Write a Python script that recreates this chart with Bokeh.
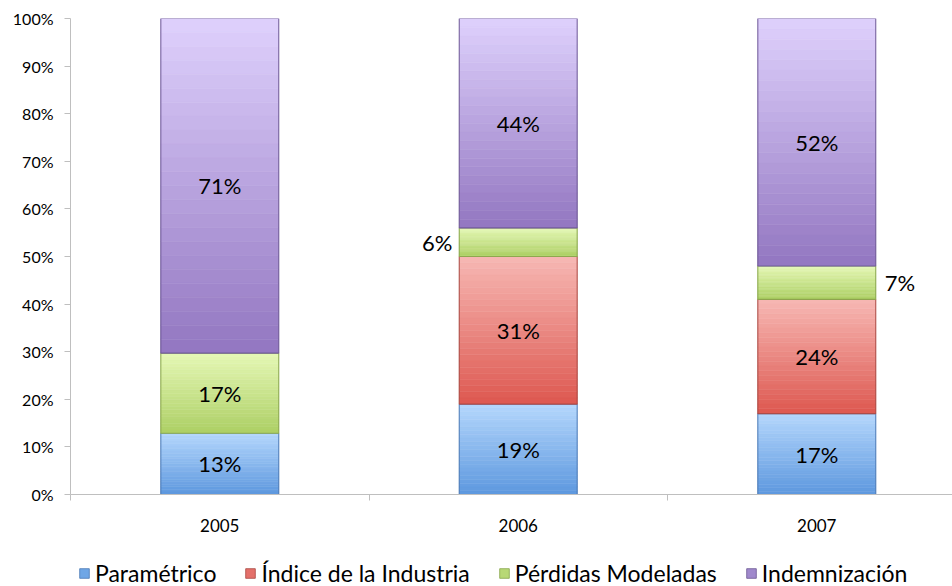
import numpy as np
from bokeh.plotting import figure
from bokeh.layouts import column
from bokeh.models import ColumnDataSource, FixedTicker, Legend, LegendItem, Range1d
from bokeh.core.properties import value
from bokeh.embed import file_html
from bokeh.resources import INLINE

# ---------------- data ----------------
years = ["2005", "2006", "2007"]
series_names = ["Paramétrico", "Índice de la Industria", "Pérdidas Modeladas", "Indemnización"]
parametrico = [13, 19, 17]
indice = [0, 31, 24]
perdidas = [17, 6, 7]
indemnizacion = [71, 44, 52]
y_ticks = [0, 10, 20, 30, 40, 50, 60, 70, 80, 90, 100]
y_tick_labels = ["0%", "10%", "20%", "30%", "40%", "50%", "60%", "70%", "80%", "90%", "100%"]

# ---------------- styles ----------------
top_colors = ["#b3d6fc", "#f6b6b2", "#e4f7b4", "#ddcffb"]
bottom_colors = ["#5f99df", "#de5a52", "#aed066", "#9478c2"]
edge_colors = ["#4a78b4", "#a84640", "#86a44a", "#6a5592"]
legend_colors = ["#6fa6e6", "#e4706a", "#b8d876", "#a089cc"]
FONT = "Lato"
N_SLICES = 24
BAR_W = 0.395
W = 952
H_MAIN, H_LEG = 560, 26
LEFT, TOP = 70, 18
FRAME_BOTTOM = 494
BAND_PX = 298.5

def hex2rgb(h):
    h = h.lstrip("#")
    return np.array([int(h[i:i + 2], 16) for i in (0, 2, 4)], dtype=float)

def rgb2hex(c):
    return "#%02x%02x%02x" % tuple(int(round(v)) for v in c)

series_vals = [parametrico, indice, perdidas, indemnizacion]
vals = np.array(series_vals, dtype=float)  # shape (4, 3)
totals = vals.sum(axis=0)
pct = vals / totals * 100.0
tops = np.cumsum(pct, axis=0)
bottoms = tops - pct
xs = np.arange(len(years))

p = figure(width=W, height=H_MAIN, output_backend="svg", toolbar_location=None,
           x_range=Range1d(-0.5, -0.5 + (W - LEFT) / BAND_PX), y_range=Range1d(0, 100),
           min_border_left=LEFT, min_border_right=0, min_border_top=TOP,
           min_border_bottom=H_MAIN - FRAME_BOTTOM)
p.outline_line_color = None
p.xgrid.visible = False
p.ygrid.visible = False
p.background_fill_color = "white"
p.border_fill_color = "white"

# legend strip (separate figure below the chart)
pl = figure(width=W, height=H_LEG, output_backend="svg", toolbar_location=None,
            x_range=Range1d(-0.5, 2.5), y_range=Range1d(200, 300),
            min_border_left=0, min_border_right=0, min_border_top=0, min_border_bottom=0)
pl.axis.visible = False
pl.grid.visible = False
pl.outline_line_color = None
pl.background_fill_color = "white"
pl.border_fill_color = "white"

legend_items = []
for s in range(len(series_names)):
    c_top = hex2rgb(top_colors[s])
    c_bot = hex2rgb(bottom_colors[s])
    d = dict(left=[], right=[], bottom=[], top=[], color=[])
    od = dict(left=[], right=[], bottom=[], top=[])
    for j in range(len(years)):
        if pct[s, j] <= 0:
            continue
        b0, t0 = bottoms[s, j], tops[s, j]
        edges = np.linspace(t0, b0, N_SLICES + 1)
        for k in range(N_SLICES):
            f = k / (N_SLICES - 1)
            d["left"].append(xs[j] - BAR_W / 2)
            d["right"].append(xs[j] + BAR_W / 2)
            d["top"].append(edges[k])
            d["bottom"].append(edges[k + 1])
            d["color"].append(rgb2hex(c_top * (1 - f) + c_bot * f))
        od["left"].append(xs[j] - BAR_W / 2)
        od["right"].append(xs[j] + BAR_W / 2)
        od["bottom"].append(b0)
        od["top"].append(t0)
    p.quad(left="left", right="right", bottom="bottom", top="top",
           fill_color="color", line_color="color", line_width=0.5, source=ColumnDataSource(d))
    src_o = ColumnDataSource(od)
    p.quad(left="left", right="right", bottom="bottom", top="top", fill_color=None,
           line_color=edge_colors[s], line_width=1.2, line_alpha=0.8, source=src_o)
    # same segments in the legend strip (outside its visible range) -> legend swatch only
    rl = pl.quad(left="left", right="right", bottom="bottom", top="top",
                 fill_color=legend_colors[s], line_color=edge_colors[s], line_width=0.8,
                 source=src_o)
    legend_items.append(LegendItem(label=series_names[s], renderers=[rl], index=0))

# ---------------- data labels ----------------
lab = dict(x=[], y=[], text=[], align=[], xoff=[])
for s in range(len(series_names)):
    for j in range(len(years)):
        v = series_vals[s][j]
        if v <= 0:
            continue
        lab["y"].append((bottoms[s, j] + tops[s, j]) / 2)
        lab["text"].append(f"{v}%")
        if v < 10:
            if j == 1:
                lab["x"].append(xs[j] - BAR_W / 2)
                lab["align"].append("right")
                lab["xoff"].append(-7)
            else:
                lab["x"].append(xs[j] + BAR_W / 2)
                lab["align"].append("left")
                lab["xoff"].append(9)
        else:
            lab["x"].append(xs[j])
            lab["align"].append("center")
            lab["xoff"].append(0)
p.text(x="x", y="y", text="text", text_align="align", x_offset="xoff",
       text_baseline="middle", text_font=value(FONT), text_font_size="22px",
       text_color="#000000", source=ColumnDataSource(lab))

# ---------------- axes ----------------
p.yaxis.ticker = FixedTicker(ticks=y_ticks)
p.yaxis.major_label_overrides = {t: l for t, l in zip(y_ticks, y_tick_labels)}
p.yaxis.major_label_text_font = FONT
p.yaxis.major_label_text_font_size = "16px"
p.yaxis.major_label_text_color = "#000000"
p.yaxis.axis_line_color = "#bfbfbf"
p.yaxis.major_tick_line_color = "#bfbfbf"
p.yaxis.major_tick_out = 6
p.yaxis.major_tick_in = 0
p.yaxis.minor_tick_line_color = None
p.yaxis.major_label_standoff = 11

boundaries = [i - 0.5 for i in range(len(years) + 1)]
p.xaxis.ticker = FixedTicker(ticks=list(xs), minor_ticks=boundaries)
p.xaxis.major_label_overrides = {int(i): y for i, y in zip(xs, years)}
p.xaxis.major_label_text_font = FONT
p.xaxis.major_label_text_font_size = "17px"
p.xaxis.major_label_text_color = "#000000"
p.xaxis.axis_line_color = "#bfbfbf"
p.xaxis.major_tick_line_color = None
p.xaxis.major_tick_out = 0
p.xaxis.major_tick_in = 0
p.xaxis.minor_tick_line_color = "#bfbfbf"
p.xaxis.minor_tick_out = 6
p.xaxis.minor_tick_in = 0
p.xaxis.major_label_standoff = 18

# ---------------- legend ----------------
legend = Legend(items=legend_items, orientation="horizontal", location=(8, -1),
                label_text_font=FONT, label_text_font_size="23px", label_text_color="#000000",
                glyph_width=12, glyph_height=12, label_standoff=5, spacing=28,
                padding=0, margin=0, border_line_color=None, background_fill_alpha=0,
                label_height=20)
pl.add_layout(legend, "center")

layout = column(p, pl, spacing=0)
open("out.html", "w").write(file_html(layout, INLINE))
